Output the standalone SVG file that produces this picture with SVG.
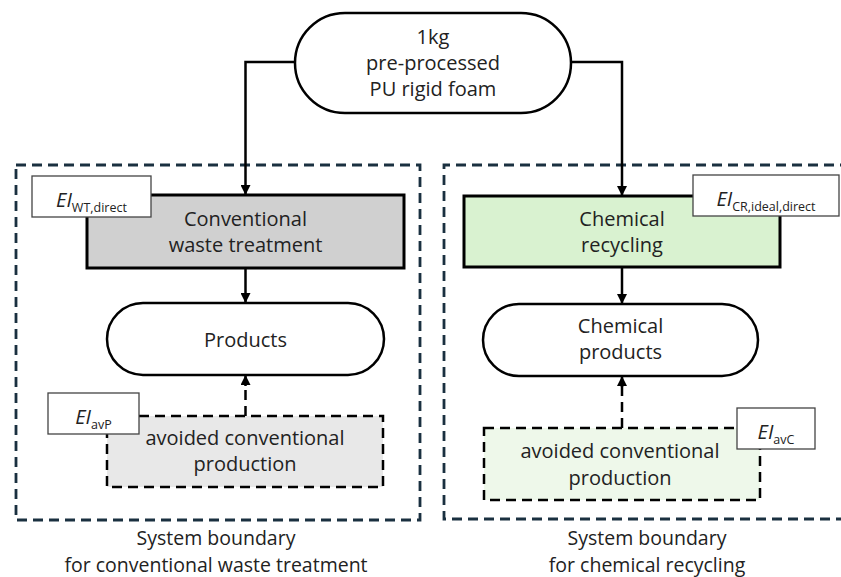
<svg xmlns="http://www.w3.org/2000/svg" width="841" height="577" viewBox="0 0 841 577">
<defs>
<marker id="ah" viewBox="0 0 10 10" refX="10" refY="5" markerWidth="10" markerHeight="10" markerUnits="userSpaceOnUse" orient="auto">
<path d="M0,0 L10,5 L0,10 Z" fill="#000"/>
</marker>
<style>
text{font-family:"Open Sans","Noto Sans","Liberation Sans",sans-serif;fill:#222;font-size:20px;text-anchor:middle}
.cap{font-size:19.5px}
.bound{fill:none;stroke:#1a3040;stroke-width:2.8;stroke-dasharray:10 6}
.pill{fill:#fff;stroke:#000;stroke-width:2.5}
.box{stroke:#000;stroke-width:3}
.avoid{stroke:#000;stroke-width:2.5;stroke-dasharray:10 6}
.lab{fill:#fff;stroke:#444;stroke-width:1.3}
.ei{font-style:italic;font-size:20px}
.sub{font-style:normal;font-size:12.5px}
.conn{fill:none;stroke:#000;stroke-width:2.5}
.dconn{fill:none;stroke:#000;stroke-width:2.5;stroke-dasharray:10 6}
</style>
</defs>
<rect width="841" height="577" fill="#fff"/>

<g id="boundary-wt">
<rect class="bound" x="16" y="165" width="404" height="355"/>
<text class="cap" x="216" y="545">System boundary</text>
<text class="cap" x="216" y="572">for conventional waste treatment</text>
</g>
<g id="boundary-cr">
<path class="bound" d="M850,165 H444 V519 H850"/>
<text class="cap" x="647" y="545">System boundary</text>
<text class="cap" x="647" y="572">for chemical recycling</text>
</g>

<g id="connectors">
<path class="conn" d="M295,62 H245.5 V195" marker-end="url(#ah)"/>
<path class="conn" d="M571,62 H622 V196" marker-end="url(#ah)"/>
<path class="conn" d="M245.5,268 V303" marker-end="url(#ah)"/>
<path class="conn" d="M622,267 V304" marker-end="url(#ah)"/>
<path class="dconn" d="M245.5,416 V385"/>
<path class="conn" d="M245.5,386 V375" marker-end="url(#ah)"/>
<path class="dconn" d="M622,428 V386"/>
<path class="conn" d="M622,387 V376" marker-end="url(#ah)"/>
</g>

<g id="feed">
<rect class="pill" x="295" y="13" width="276" height="100" rx="50"/>
<text x="433" y="44">1kg</text>
<text x="433" y="70">pre-processed</text>
<text x="433" y="96">PU rigid foam</text>
</g>

<g id="waste-treatment">
<rect class="box" x="87" y="195" width="317" height="73" fill="#d0d0d0"/>
<text x="245.5" y="226">Conventional</text>
<text x="245.5" y="252">waste treatment</text>
</g>
<g id="ei-wt">
<rect class="lab" x="32" y="176" width="119" height="41"/>
<text class="ei" x="91.5" y="207">EI<tspan class="sub" dy="5">WT,direct</tspan></text>
</g>

<g id="chemical-recycling">
<rect class="box" x="464" y="196" width="316" height="71" fill="#d9f2d0"/>
<text x="622" y="226">Chemical</text>
<text x="622" y="252">recycling</text>
</g>
<g id="ei-cr">
<rect class="lab" x="693" y="175" width="146" height="41"/>
<text class="ei" x="766" y="206">EI<tspan class="sub" dy="5">CR,ideal,direct</tspan></text>
</g>

<g id="products">
<rect class="pill" x="107" y="303" width="277" height="72" rx="36"/>
<text x="245.5" y="347">Products</text>
</g>
<g id="chemical-products">
<rect class="pill" x="483" y="304" width="275" height="72" rx="36"/>
<text x="620.5" y="333">Chemical</text>
<text x="620.5" y="359">products</text>
</g>

<g id="avoided-wt">
<rect class="avoid" x="107" y="416" width="276" height="71" fill="#e8e8e8"/>
<text x="245" y="445">avoided conventional</text>
<text x="245" y="471">production</text>
</g>
<g id="ei-avp">
<rect class="lab" x="48" y="393" width="91" height="41"/>
<text class="ei" x="93.5" y="424">EI<tspan class="sub" dy="5">avP</tspan></text>
</g>

<g id="avoided-cr">
<rect class="avoid" x="484" y="428" width="276" height="72" fill="#eef8ea"/>
<text x="620" y="458">avoided conventional</text>
<text x="620" y="485">production</text>
</g>
<g id="ei-avc">
<rect class="lab" x="737" y="408" width="78" height="41"/>
<text class="ei" x="776" y="439">EI<tspan class="sub" dy="5">avC</tspan></text>
</g>
</svg>
